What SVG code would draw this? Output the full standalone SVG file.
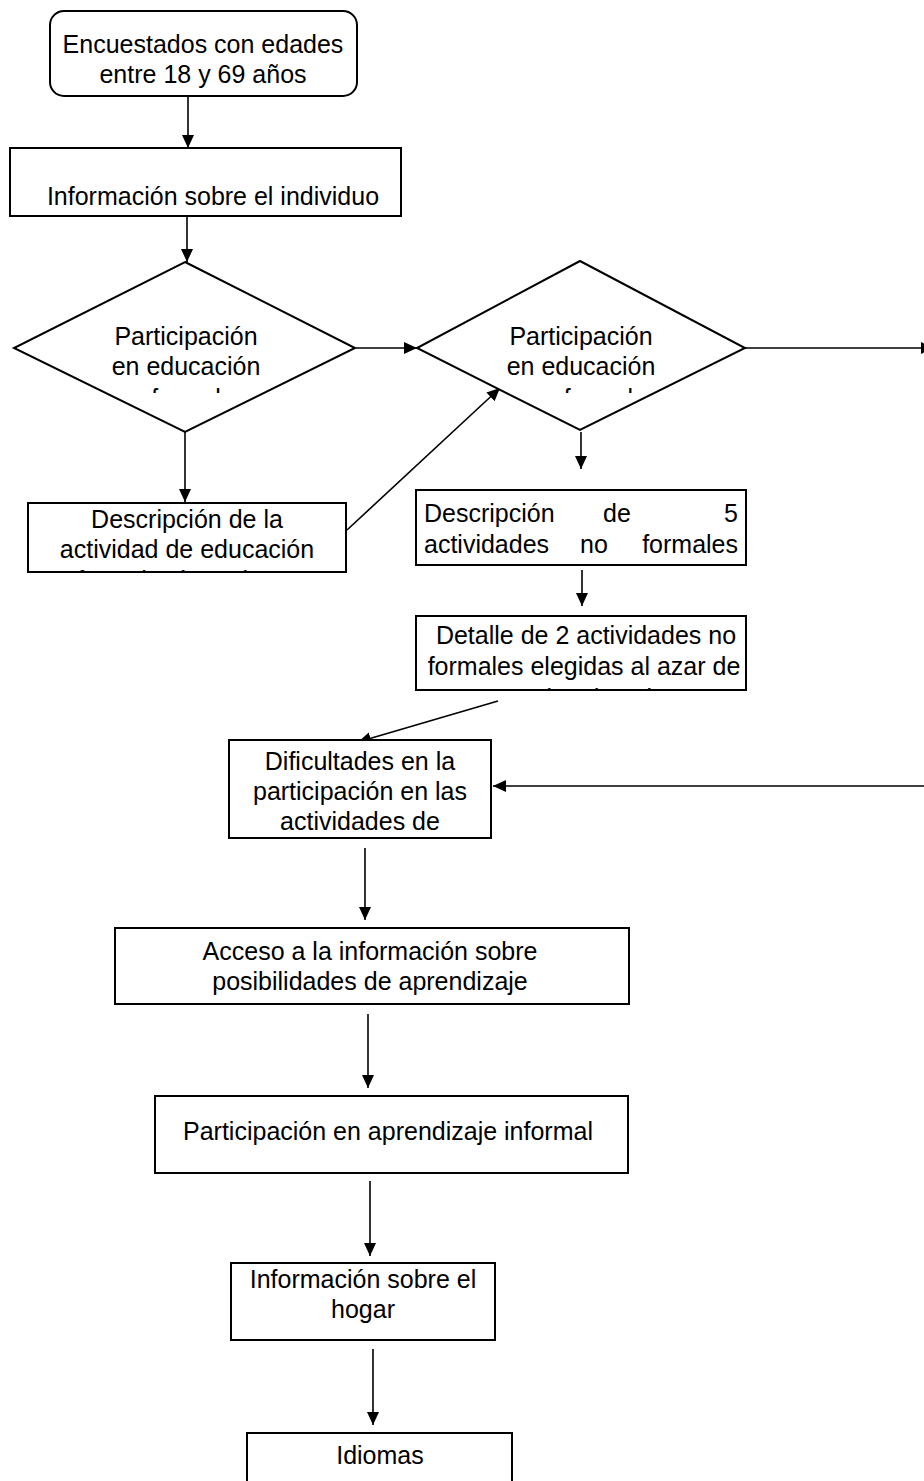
<svg xmlns="http://www.w3.org/2000/svg" width="924" height="1481" viewBox="0 0 924 1481">
<style>
.s{fill:#fff;stroke:#000;stroke-width:2}
.t{font-family:"Liberation Sans",Arial,sans-serif;font-size:25px;fill:#000;text-anchor:middle}
.l{text-anchor:start}.r{text-anchor:end}
.c{fill:none;stroke:#000;stroke-width:1.6;marker-end:url(#ah)}
</style>
<defs>
<marker id="ah" markerWidth="13" markerHeight="13" viewBox="0 0 13 13" refX="13" refY="6.5" orient="auto" markerUnits="userSpaceOnUse"><path d="M0,0.5 L13,6.5 L0,12.5 z" fill="#000"/></marker>
<clipPath id="cd1"><rect x="0" y="250" width="400" height="143"/></clipPath>
<clipPath id="cd2"><rect x="400" y="250" width="400" height="143"/></clipPath>
<clipPath id="cb1"><rect x="28" y="503" width="318" height="69"/></clipPath>
<clipPath id="cb3"><rect x="416" y="616" width="330" height="74"/></clipPath>
<clipPath id="cb4"><rect x="229" y="740" width="262" height="98"/></clipPath>
</defs>
<g id="connectors">
<path class="c" d="M188,96 V148"/>
<path class="c" d="M187,210 V262"/>
<path class="c" d="M356,348 H417"/>
<path class="c" d="M745,348 H934"/>
<path class="c" d="M185,432 V502"/>
<path class="c" d="M347,530 L500,388"/>
<path class="c" d="M581,432 V469"/>
<path class="c" d="M582,570 V606"/>
<path class="c" d="M498,701 L358,742"/>
<path class="c" d="M924,786 H493"/>
<path class="c" d="M365,848 V920"/>
<path class="c" d="M368,1014 V1088"/>
<path class="c" d="M370,1181 V1256"/>
<path class="c" d="M373,1349 V1425"/>
</g>
<g id="n1"><rect class="s" x="50" y="11" width="307" height="85" rx="14"/>
<text class="t" x="203" y="53">Encuestados con edades</text>
<text class="t" x="203" y="83">entre 18 y 69 años</text></g>
<g id="n2"><rect class="s" x="10" y="148" width="391" height="68"/>
<text class="t" x="213" y="205">Información sobre el individuo</text></g>
<g id="n3"><polygon class="s" points="185,262 355,348 185,432 14,348"/>
<g clip-path="url(#cd1)"><text class="t" x="186" y="345">Participación</text>
<text class="t" x="186" y="375">en educación</text>
<text class="t" x="186" y="407">formal</text></g></g>
<g id="n4"><polygon class="s" points="580,261 745,348 580,430 417,348"/>
<g clip-path="url(#cd2)"><text class="t" x="581" y="345">Participación</text>
<text class="t" x="581" y="375">en educación</text>
<text class="t" x="581" y="407">no formal</text></g></g>
<g id="n5"><rect class="s" x="28" y="503" width="318" height="69"/>
<g clip-path="url(#cb1)"><text class="t" x="187" y="528">Descripción de la</text>
<text class="t" x="187" y="558">actividad de educación</text>
<text class="t" x="187" y="589">formal más reciente</text></g></g>
<g id="n6"><rect class="s" x="416" y="490" width="330" height="75"/>
<text class="t l" x="424" y="522">Descripción</text>
<text class="t" x="617" y="522">de</text>
<text class="t r" x="738" y="522">5</text>
<text class="t l" x="424" y="553">actividades</text>
<text class="t" x="594" y="553">no</text>
<text class="t r" x="738" y="553">formales</text></g>
<g id="n7"><rect class="s" x="416" y="616" width="330" height="74"/>
<g clip-path="url(#cb3)"><text class="t" x="586" y="644">Detalle de 2 actividades no</text>
<text class="t" x="584" y="675">formales elegidas al azar de</text>
<text class="t" x="584" y="707">entre las descritas</text></g></g>
<g id="n8"><rect class="s" x="229" y="740" width="262" height="98"/>
<g clip-path="url(#cb4)"><text class="t" x="360" y="770">Dificultades en la</text>
<text class="t" x="360" y="800">participación en las</text>
<text class="t" x="360" y="830">actividades de</text></g></g>
<g id="n9"><rect class="s" x="115" y="928" width="514" height="76"/>
<text class="t" x="370" y="960">Acceso a la información sobre</text>
<text class="t" x="370" y="990">posibilidades de aprendizaje</text></g>
<g id="n10"><rect class="s" x="155" y="1096" width="473" height="77"/>
<text class="t" x="388" y="1140">Participación en aprendizaje informal</text></g>
<g id="n11"><rect class="s" x="231" y="1263" width="264" height="77"/>
<text class="t" x="363" y="1288">Información sobre el</text>
<text class="t" x="363" y="1318">hogar</text></g>
<g id="n12"><rect class="s" x="247" y="1433" width="265" height="60"/>
<text class="t" x="380" y="1464">Idiomas</text></g>
</svg>
